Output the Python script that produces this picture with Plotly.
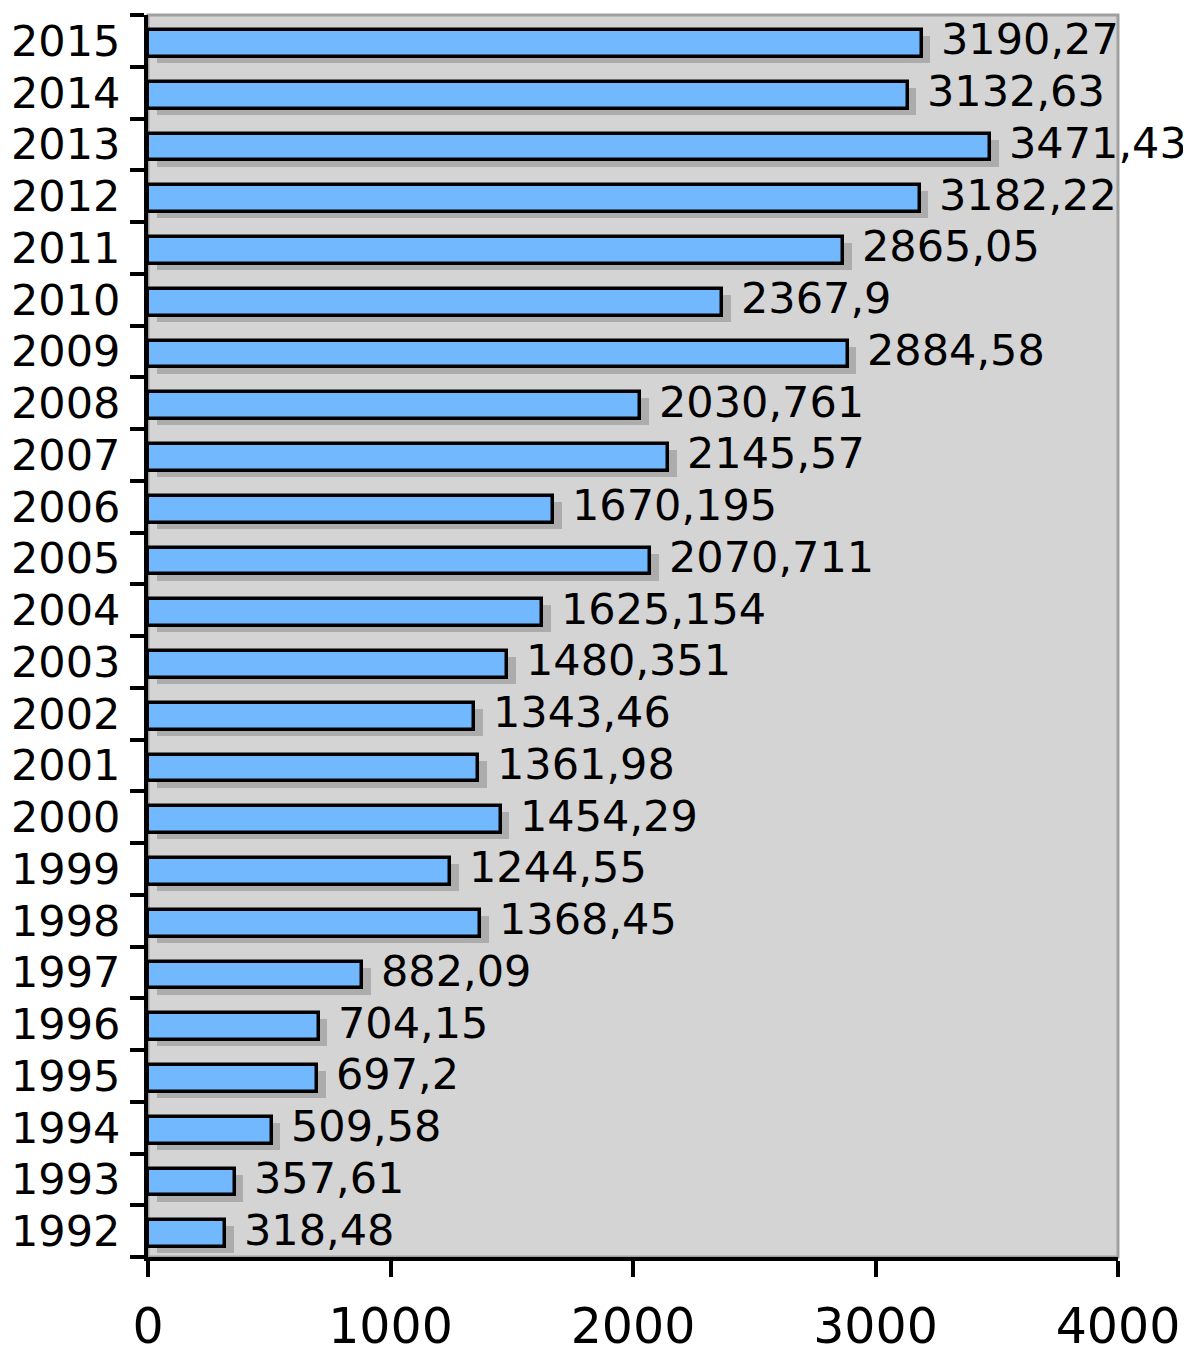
import plotly.graph_objects as go

years = list(range(1992, 2016))
values = [318.48, 357.61, 509.58, 697.2, 704.15, 882.09, 1368.45, 1244.55,
          1454.29, 1361.98, 1343.46, 1480.351, 1625.154, 2070.711, 1670.195,
          2145.57, 2030.761, 2884.58, 2367.9, 2865.05, 3182.22, 3471.43,
          3132.63, 3190.27]
labels = [str(v).replace('.', ',') for v in values]
x_ticks = [0, 1000, 2000, 3000, 4000]

pos = list(range(len(years)))
FONT = "DejaVu Sans"

fig = go.Figure()
# shadow
fig.add_trace(go.Bar(
    y=[p - 0.17 for p in pos], x=values, base=36, orientation='h', width=0.52,
    marker=dict(color='#acacac', line=dict(width=0)), hoverinfo='skip',
    showlegend=False))
# main bars
fig.add_trace(go.Bar(
    y=[p - 0.05 for p in pos], x=values, orientation='h', width=0.52,
    marker=dict(color='#72b8ff', line=dict(color='black', width=3.5)),
    showlegend=False))

for p, v, t in zip(pos, values, labels):
    fig.add_annotation(x=v, y=p + 0.03, text=t, showarrow=False, xanchor='left',
                       yanchor='middle', xshift=17,
                       font=dict(family=FONT, size=43, color='black'))

fig.add_shape(type='rect', xref='paper', yref='paper', x0=0, x1=1, y0=0, y1=1,
              line=dict(color='#a0a0a0', width=3), layer='below')

fig.update_layout(
    width=1183, height=1342,
    margin=dict(l=140, r=73, t=7, b=93, autoexpand=False),
    paper_bgcolor='white', plot_bgcolor='#d4d4d4',
    barmode='overlay', bargap=0,
    font=dict(family=FONT, color='black'),
)
fig.update_xaxes(range=[0, 4000], tickvals=x_ticks, ticktext=[str(t) for t in x_ticks],
                 automargin=False,
                 showgrid=False, zeroline=False, showline=True, linecolor='black',
                 linewidth=4, ticks='outside', ticklen=16, tickwidth=4, tickcolor='black',
                 tickfont=dict(size=49, family=FONT), ticklabelstandoff=7)
fig.update_yaxes(range=[-0.5, len(years) - 0.5], tickvals=pos,
                 ticktext=[str(y) for y in years], automargin=False,
                 showgrid=False, zeroline=False, showline=True, linecolor='black',
                 linewidth=4, ticks='', ticklen=0,
                 minor=dict(tickvals=[p - 0.5 for p in pos] + [len(years) - 0.5],
                            ticks='outside', ticklen=14, tickwidth=4, tickcolor='black'),
                 tickfont=dict(size=43, family=FONT), ticklabelstandoff=15)

fig.write_html("out.html")
